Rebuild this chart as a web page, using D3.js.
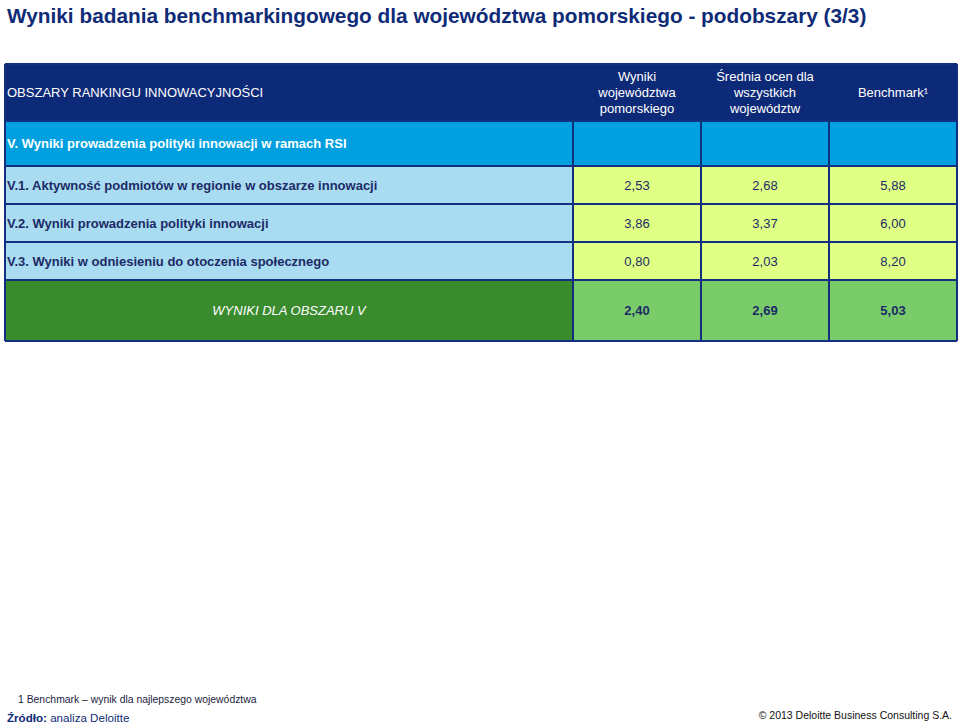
<!DOCTYPE html>
<html><head><meta charset="utf-8">
<script src="https://cdn.jsdelivr.net/npm/d3@7/dist/d3.min.js"></script>
<style>body{margin:0;background:#fff;} svg{display:block;font-family:"Liberation Sans",Arial,sans-serif;}</style>
</head><body><svg id="c" width="960" height="725"></svg>
<script>
const title = "Wyniki badania benchmarkingowego dla województwa pomorskiego - podobszary (3/3)";
const headerLabel = "OBSZARY RANKINGU INNOWACYJNOŚCI";
const seriesNames = ["Wyniki województwa pomorskiego", "Średnia ocen dla wszystkich województw", "Benchmark¹"];
const seriesHeaderLines = [["Wyniki","województwa","pomorskiego"],["Średnia ocen dla","wszystkich","województw"],["Benchmark¹"]];
const sectionLabel = "V. Wyniki prowadzenia polityki innowacji w ramach RSI";
const categories = ["V.1. Aktywność podmiotów w regionie w obszarze innowacji","V.2. Wyniki prowadzenia polityki innowacji","V.3. Wyniki w odniesieniu do otoczenia społecznego"];
const pomorskie = [2.53, 3.86, 0.80];
const srednia = [2.68, 3.37, 2.03];
const benchmark = [5.88, 6.00, 8.20];
const totalLabel = "WYNIKI DLA OBSZARU V";
const totals = [2.40, 2.69, 5.03];
const footnote = "1 Benchmark – wynik dla najlepszego województwa";
const sourceBold = "Źródło:";
const sourceText = " analiza Deloitte";
const copyright = "© 2013 Deloitte Business Consulting S.A.";

const series = [pomorskie, srednia, benchmark];
const fmt = v => d3.format(".2f")(v).replace(".", ",");

const svg = d3.select("#c");
const navy = "#0f2b78", border = "#12307f", txt = "#1c2a66";
const L = 5, R = 957, labelR = 573;
const yHead = 64, ySec = 121, yRows0 = 166, yRows1 = 280, yTot1 = 341;

const x = d3.scaleBand().domain(seriesNames).range([labelR, R]);
const y = d3.scaleBand().domain(categories).range([yRows0, yRows1]);

svg.append("text").attr("x", 7).attr("y", 23).attr("fill", navy)
  .attr("font-size", 20.8).attr("font-weight", "bold").text(title);

// header
svg.append("rect").attr("x", L).attr("y", yHead).attr("width", R - L).attr("height", ySec - yHead).attr("fill", "#0d2a78");
svg.append("text").attr("x", 7).attr("y", (yHead + ySec) / 2 + 4.5).attr("fill", "#fff").attr("font-size", 13).text(headerLabel);
seriesNames.forEach((s, i) => {
  const lines = seriesHeaderLines[i];
  const cx = x(s) + x.bandwidth() / 2, cy = (yHead + ySec) / 2;
  lines.forEach((ln, j) => {
    svg.append("text").attr("x", cx).attr("y", cy + (j - (lines.length - 1) / 2) * 16 + 4.5)
      .attr("text-anchor", "middle").attr("fill", "#fff").attr("font-size", 13).text(ln);
  });
});

// section row
svg.append("rect").attr("x", L).attr("y", ySec).attr("width", R - L).attr("height", yRows0 - ySec).attr("fill", "#009fe0");
svg.append("text").attr("x", 7).attr("y", (ySec + yRows0) / 2 + 4.5).attr("fill", "#fff").attr("font-size", 13)
  .attr("font-weight", "bold").text(sectionLabel);

// data rows
const rows = svg.append("g").selectAll("g").data(categories).join("g");
rows.append("rect").attr("x", L).attr("y", d => y(d)).attr("width", labelR - L).attr("height", y.bandwidth()).attr("fill", "#a9dcf1");
rows.append("text").attr("x", 7).attr("y", d => y(d) + y.bandwidth() / 2 + 4.5).attr("fill", txt).attr("font-size", 13)
  .attr("font-weight", "bold").text(d => d);
categories.forEach((c, ri) => {
  seriesNames.forEach((s, si) => {
    svg.append("rect").attr("x", x(s)).attr("y", y(c)).attr("width", x.bandwidth()).attr("height", y.bandwidth()).attr("fill", "#dfff85");
    svg.append("text").attr("x", x(s) + x.bandwidth() / 2).attr("y", y(c) + y.bandwidth() / 2 + 4.5)
      .attr("text-anchor", "middle").attr("fill", txt).attr("font-size", 13).text(fmt(series[si][ri]));
  });
});

// total row
svg.append("rect").attr("x", L).attr("y", yRows1).attr("width", labelR - L).attr("height", yTot1 - yRows1).attr("fill", "#3a8a2e");
svg.append("text").attr("x", (L + labelR) / 2).attr("y", (yRows1 + yTot1) / 2 + 4.5).attr("text-anchor", "middle")
  .attr("fill", "#fff").attr("font-size", 13).attr("font-style", "italic").text(totalLabel);
seriesNames.forEach((s, si) => {
  svg.append("rect").attr("x", x(s)).attr("y", yRows1).attr("width", x.bandwidth()).attr("height", yTot1 - yRows1).attr("fill", "#7acc6a");
  svg.append("text").attr("x", x(s) + x.bandwidth() / 2).attr("y", (yRows1 + yTot1) / 2 + 4.5).attr("text-anchor", "middle")
    .attr("fill", txt).attr("font-size", 13).attr("font-weight", "bold").text(fmt(totals[si]));
});

// grid lines
const g = svg.append("g").attr("stroke", border).attr("stroke-width", 2).attr("fill", "none");
[yHead, ySec, ...categories.map(c => y(c)), yRows1, yTot1].forEach(yy => {
  g.append("line").attr("x1", L).attr("x2", R).attr("y1", yy).attr("y2", yy);
});
[L, ...seriesNames.map(s => x(s)), R].forEach((xx, i) => {
  g.append("line").attr("x1", xx).attr("x2", xx).attr("y1", i === 0 || i === 4 ? yHead : ySec).attr("y2", yTot1);
});

// footer
svg.append("text").attr("x", 18).attr("y", 703).attr("fill", "#1a2240").attr("font-size", 10.4).text(footnote);
const src = svg.append("text").attr("x", 7).attr("y", 722).attr("fill", navy).attr("font-size", 11.6);
src.append("tspan").attr("font-weight", "bold").text(sourceBold);
src.append("tspan").text(sourceText);
svg.append("text").attr("x", 952).attr("y", 719).attr("text-anchor", "end").attr("fill", "#111").attr("font-size", 10.5).text(copyright);
</script></body></html>
